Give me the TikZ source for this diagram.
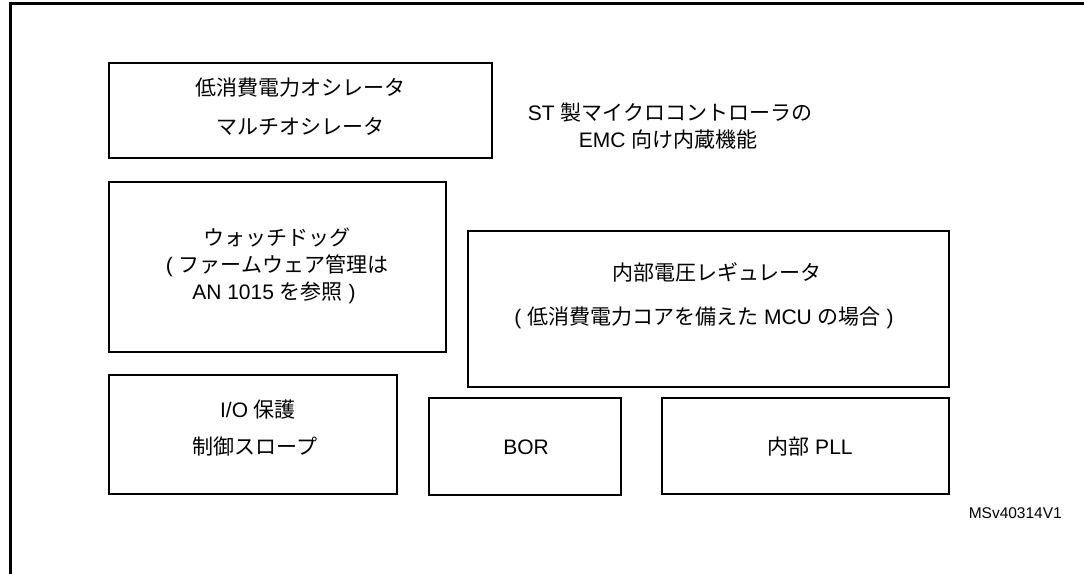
\documentclass[tikz,border=0pt]{standalone}
\usepackage{fontspec}
\setmainfont{Liberation Sans}
\newfontfamily\jp{Noto Sans CJK JP}
\begin{document}
\begin{tikzpicture}[x=1pt,y=-1pt,
  box/.style={draw, line width=2.7pt, inner sep=0pt, outer sep=0pt, rectangle},
  txt/.style={anchor=base, inner sep=0pt, font=\fontsize{21}{25}\selectfont},
  small/.style={anchor=base east, inner sep=0pt, font=\fontsize{15.5}{18}\selectfont}]
\useasboundingbox (0,0) rectangle (1084,573);
\clip (0,0) rectangle (1084,573);
% outer frame
\draw[line width=3pt] (10,600) -- (10,3.5) -- (1100,3.5);
% boxes
\node[box, minimum width=383pt, minimum height=95pt] (osc) at (300.5,110.5) {};
\node[box, minimum width=337pt, minimum height=170pt] (wdg) at (277.5,267) {};
\node[box, minimum width=481pt, minimum height=156pt] (reg) at (708.5,309) {};
\node[box, minimum width=288pt, minimum height=119pt] (io) at (253,434.5) {};
\node[box, minimum width=192pt, minimum height=97pt] (bor) at (525,446.5) {};
\node[box, minimum width=287pt, minimum height=96pt] (pll) at (805.5,446) {};
% texts
\node[txt] (osc1) at (300,95.8) {\jp 低消費電力オシレータ};
\node[txt] (osc2) at (300,134.8) {\jp マルチオシレータ};
\node[txt] (st1) at (670,120.8) {ST {\jp 製マイクロコントローラの}};
\node[txt] (st2) at (668,147.8) {EMC {\jp 向け内蔵機能}};
\node[txt] (wdg1) at (277,245.8) {\jp ウォッチドッグ};
\node[txt] (wdg2) at (277,272.8) {( {\jp ファームウェア管理は}};
\node[txt] (wdg3) at (274,299.8) {AN 1015 {\jp を参照} )};
\node[txt] (reg1) at (717,280.8) {\jp 内部電圧レギュレータ};
\node[txt] (reg2) at (704,324.8) {( {\jp 低消費電力コアを備えた} MCU {\jp の場合} )};
\node[txt] (io1) at (258,417.8) {I/O {\jp 保護}};
\node[txt] (io2) at (255,454.8) {\jp 制御スロープ};
\node[txt] (bor1) at (526,454.6) {BOR};
\node[txt] (pll1) at (810,454.8) {{\jp 内部} PLL};
\node[small] (ms) at (1062,518) {MSv40314V1};
\end{tikzpicture}
\end{document}
